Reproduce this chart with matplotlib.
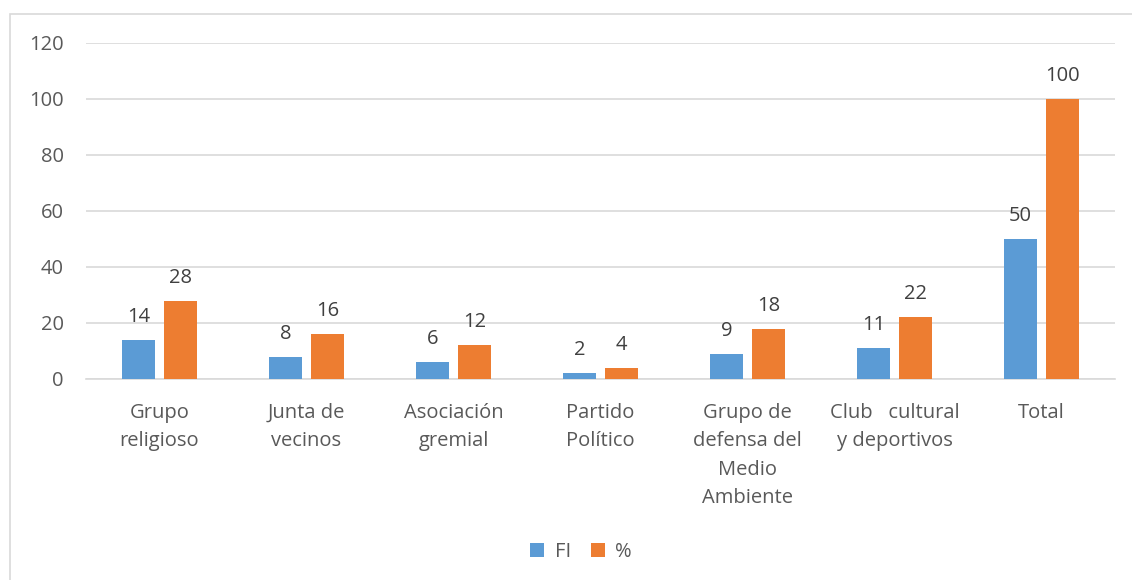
import matplotlib
matplotlib.use("Agg")
import matplotlib.pyplot as plt
import numpy as np
from matplotlib.patches import Rectangle

categories = ["Grupo\nreligioso", "Junta de\nvecinos", "Asociación\ngremial", "Partido\nPolítico",
              "Grupo de\ndefensa del\nMedio\nAmbiente", "Club   cultural\ny deportivos", "Total"]
fi = [14, 8, 6, 2, 9, 11, 50]
pct = [28, 16, 12, 4, 18, 22, 100]
yticks = [0, 20, 40, 60, 80, 100, 120]

plt.rcParams['font.family'] = ['Open Sans', 'DejaVu Sans']
txt = '#595959'
blue = '#5B9BD5'
orange = '#ED7D31'
fs = 14.5

fig = plt.figure(figsize=(11.32, 5.8), dpi=100)
fig.patches.append(Rectangle((10/1132, -0.1), 1.2, 1 - 14/580 + 0.1, transform=fig.transFigure,
                             fill=False, edgecolor='#D9D9D9', linewidth=1.2, figure=fig))
ax = fig.add_axes([86/1132, 1 - 379/580, (1115-86)/1132, (379-43)/580])

x = np.arange(len(categories))
w = 0.225
off = 0.143
b1 = ax.bar(x - off, fi, w, color=blue, label='FI', zorder=3)
b2 = ax.bar(x + off, pct, w, color=orange, label='%', zorder=3)
for rect, v in list(zip(b1, fi)) + list(zip(b2, pct)):
    ax.annotate(str(v), (rect.get_x() + rect.get_width()/2, v), xytext=(0, 13),
                textcoords='offset points', ha='center', va='baseline',
                fontsize=fs, color='#404040')

ax.set_xlim(-0.5, len(categories) - 0.5)
ax.set_ylim(0, 120)
ax.set_yticks(yticks)
ax.set_yticklabels([str(t) for t in yticks], fontsize=fs, color=txt)
ax.set_xticks(x)
ax.set_xticklabels(categories, fontsize=fs, color=txt, linespacing=1.57, va='top')
ax.tick_params(axis='both', length=0)
ax.tick_params(axis='y', pad=16)
ax.tick_params(axis='x', pad=17)
ax.yaxis.grid(True, color='#D9D9D9', linewidth=1.2, zorder=0)
for s in ['top', 'right', 'left']:
    ax.spines[s].set_visible(False)
ax.spines['bottom'].set_color('#D9D9D9')
ax.spines['bottom'].set_linewidth(1.2)

leg = fig.legend(handles=[b1, b2], labels=['FI', '%'], loc='center', bbox_to_anchor=(581/1132, 1 - 552/580),
                 ncol=2, frameon=False, fontsize=fs, handlelength=0.7, handleheight=0.7,
                 handletextpad=0.5, columnspacing=1.0)
for t in leg.get_texts():
    t.set_color(txt)

fig.savefig('out.png', dpi=100)
